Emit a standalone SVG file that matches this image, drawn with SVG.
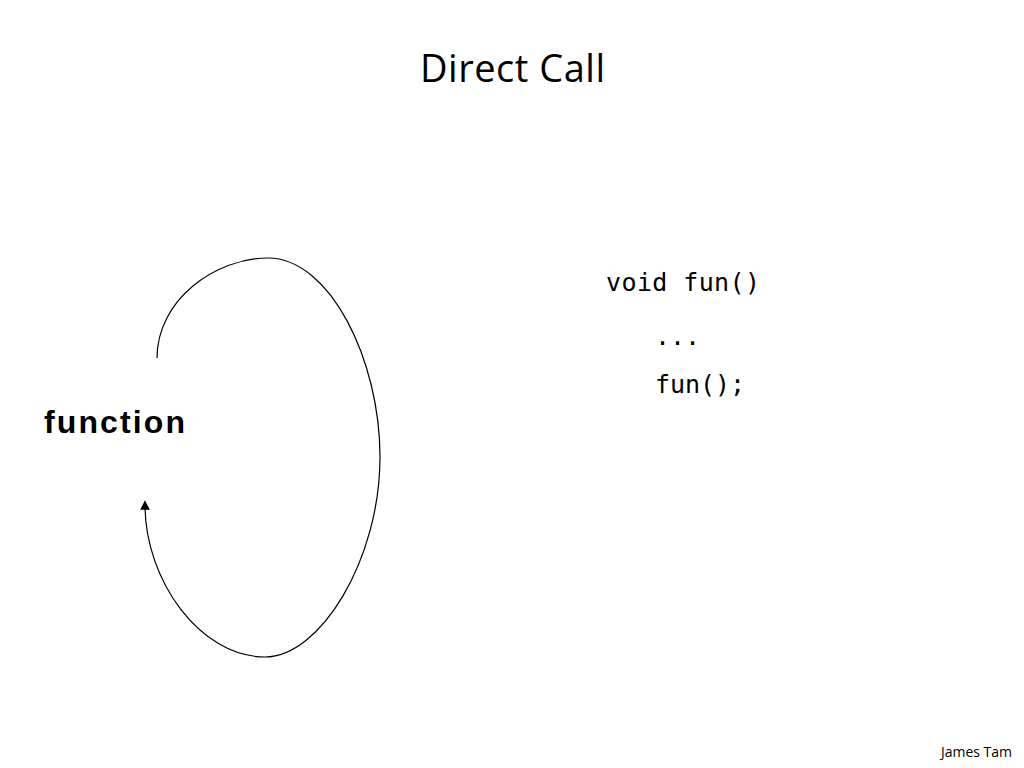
<svg xmlns="http://www.w3.org/2000/svg" width="1024" height="768" viewBox="0 0 1024 768">
<defs><marker id="ah" markerWidth="8" markerHeight="8" refX="4" refY="4" orient="auto"><path d="M0,0 L8,4 L0,8 z" fill="#000"/></marker></defs>
<style>.m{font-family:"DejaVu Sans Mono",monospace;font-size:25px}</style>
<rect width="1024" height="768" fill="#fff"/>
<text x="420" y="82" textLength="185" font-family="Open Sans, sans-serif" font-size="38">Direct Call</text>
<g id="function"><text x="44" y="433" textLength="141" font-family="Liberation Sans, sans-serif" font-weight="bold" font-size="32">function</text></g>
<g id="code">
<text class="m" x="606" y="291" textLength="154">void fun()</text>
<text class="m" x="655" y="345">...</text>
<text class="m" x="655" y="393" textLength="90">fun();</text>
</g>
<g id="connectors"><path d="M157,358 C157,300 215,258 268,258 C330,258 380,360 380,457 C380,560 320,657 265,657 C200,657 145,580 145,505" fill="none" stroke="#000" stroke-width="1.2" marker-end="url(#ah)"/></g>
<text x="1012" y="757" text-anchor="end" font-family="Open Sans, sans-serif" font-size="14">James Tam</text>
</svg>
